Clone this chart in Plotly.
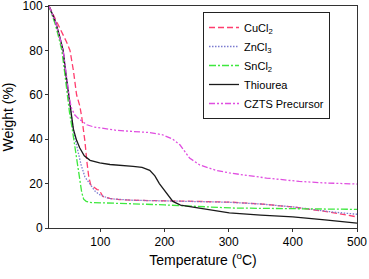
import plotly.graph_objects as go

cucl2_t = [20, 25, 30, 34.5, 40, 47, 52.7, 58, 63, 68, 71, 74, 76, 79, 82, 85, 90, 95, 98, 104, 115, 130, 150, 200, 250, 306, 350, 400, 450, 500]
cucl2_w = [100, 97, 94.5, 92, 88.5, 84, 80, 71, 60, 55, 50, 44, 39, 30, 23, 19.5, 18.2, 17.3, 17.2, 14.2, 13.3, 12.8, 12.5, 12.1, 12, 11.6, 10.8, 9.5, 7.5, 5]

zncl3_t = [20, 30, 42, 50, 56, 60, 65, 70, 76, 84, 92, 100, 115, 150, 200, 250, 300, 350, 400, 462, 500]
zncl3_w = [100, 93, 80, 61, 48, 41, 34, 28.5, 23, 19.5, 16.5, 14.8, 13.2, 12.5, 12.1, 11.9, 11.6, 10.8, 9.5, 7.2, 6.2]

sncl2_t = [20, 25, 30, 35, 40, 44, 48, 52, 56, 60, 64, 68, 71, 74, 78, 84, 100, 150, 200, 250, 306, 400, 500]
sncl2_w = [100, 96, 91.5, 86, 80, 71, 60, 52, 45, 37, 29, 21, 16, 13, 12, 11.5, 11.3, 10.9, 10.4, 9.8, 9, 8.7, 8.4]

thio_t = [20, 25, 30, 36, 42, 46, 50, 54, 58, 63, 68, 75, 84, 99, 115, 151, 165, 177, 185, 192, 200, 206, 213, 225, 255, 301, 350, 400, 450, 500]
thio_w = [100, 96.5, 93, 87, 80, 70, 61, 52, 44.5, 39.5, 36, 32.5, 30.5, 29.3, 28.6, 27.8, 27.3, 26, 23.5, 20, 17, 14.5, 12, 10.3, 9, 6.8, 5.8, 5, 3.7, 2.2]

czts_t = [20, 30, 42, 48, 52, 55, 60, 65, 72, 79, 90, 100, 125, 150, 177, 197, 213, 224, 232, 239, 255, 280, 301, 330, 359, 410, 450, 500]
czts_w = [100, 93, 80, 66, 58, 54, 51, 49.5, 47.8, 46.5, 45.5, 45, 44, 43.5, 43, 42, 40, 37.5, 34, 31.5, 28.4, 26, 24.8, 23.5, 22.5, 21, 20.3, 19.8]

names = ["CuCl<sub>2</sub>", "ZnCl<sub>3</sub>", "SnCl<sub>2</sub>", "Thiourea", "CZTS Precursor"]
series = [(cucl2_t, cucl2_w), (zncl3_t, zncl3_w), (sncl2_t, sncl2_w), (thio_t, thio_w), (czts_t, czts_w)]
colors = ["#ff3d6e", "#7b7bd0", "#3ee83e", "#1a1a1a", "#e04ee0"]
dashes = ["6px,3px", "1.5px,1.5px", "7px,2px,2px,2px", "solid", "6px,2px,2px,2px,2px,2px"]

fig = go.Figure()
for (t, w), n, c, d in zip(series, names, colors, dashes):
    fig.add_trace(go.Scatter(x=t, y=w, name=n, mode="lines",
                             line=dict(color=c, width=1.3, dash=d)))

fig.update_layout(
    width=369, height=279,
    margin=dict(l=49, r=12, t=6, b=51, autoexpand=False),
    paper_bgcolor="white", plot_bgcolor="white",
    font=dict(family="Liberation Sans, Arial, sans-serif", size=12, color="black"),
    showlegend=True,
    legend=dict(x=0.5, y=0.973, xanchor="left", yanchor="top",
                bordercolor="#222", borderwidth=1, bgcolor="white",
                font=dict(size=11), tracegroupgap=0),
    xaxis=dict(range=[20, 500], tickvals=[100, 200, 300, 400, 500], automargin=False,
               showline=True, linecolor="#333", linewidth=1, mirror=True,
               ticks="outside", ticklen=3, tickcolor="#333", showgrid=False, zeroline=False,
               ticklabeloverflow="allow",
               title=dict(text="Temperature (<sup>o</sup>C)", standoff=6)),
    yaxis=dict(range=[0, 100], tickvals=[0, 20, 40, 60, 80, 100], automargin=False,
               showline=True, linecolor="#333", linewidth=1, mirror=True,
               ticks="outside", ticklen=3, tickcolor="#333", showgrid=False, zeroline=False,
               ticklabeloverflow="allow",
               title=dict(text="Weight (%)", standoff=6)),
)

fig.write_html("out.html", config={"displayModeBar": False},
               post_script="document.body.style.margin='0';document.body.style.overflow='hidden';")
